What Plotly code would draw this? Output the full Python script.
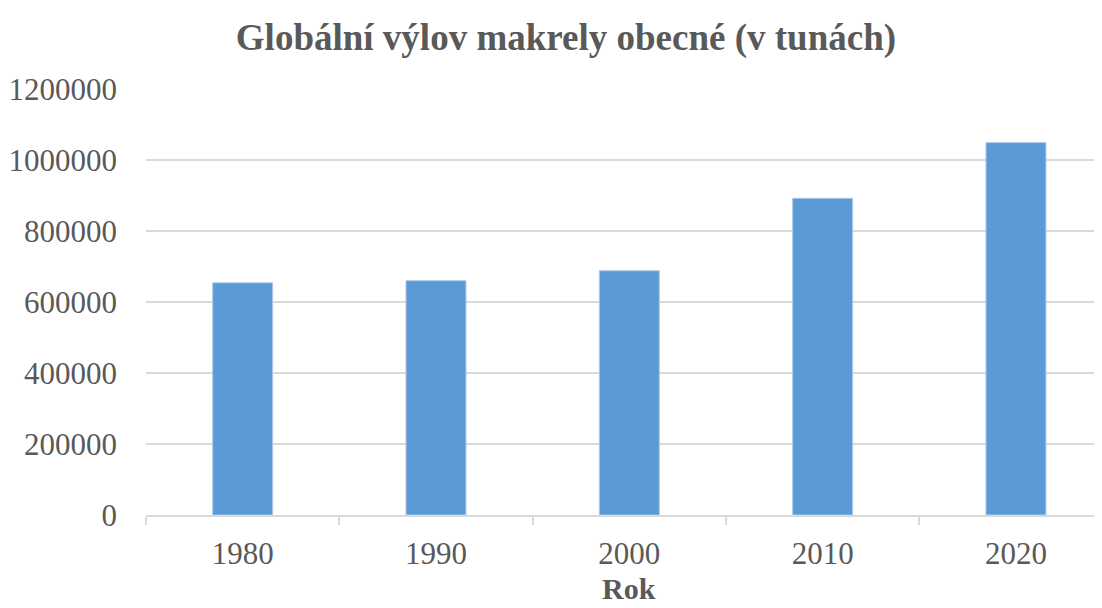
import plotly.graph_objects as go

years = ["1980", "1990", "2000", "2010", "2020"]
catch_tonnes = [654000, 660000, 688000, 892000, 1049000]
y_ticks = [0, 200000, 400000, 600000, 800000, 1000000, 1200000]

title_text = "Globální výlov makrely obecné (v tunách)"
x_title = "Rok"

FONT = "Liberation Serif, Times New Roman, serif"
GREY = "#595959"

fig = go.Figure(
    go.Bar(
        x=years,
        y=catch_tonnes,
        marker=dict(color="#5B9BD5", line=dict(color="#A9C8EA", width=1)),
        width=0.31,
    )
)

fig.update_layout(
    width=1094,
    height=600,
    paper_bgcolor="white",
    plot_bgcolor="white",
    margin=dict(l=138, r=0, t=81, b=93),
    showlegend=False,
    title=dict(
        text="<b>" + title_text + "</b>",
        x=0.510,
        xanchor="center",
        y=0.952,
        yanchor="middle",
        font=dict(family=FONT, size=37, color=GREY),
    ),
    font=dict(family=FONT, color=GREY),
    annotations=[
        dict(
            text="<b>" + x_title + "</b>",
            x=0.5056,
            xref="paper",
            y=-0.1737,
            yref="paper",
            xanchor="center",
            yanchor="middle",
            showarrow=False,
            font=dict(family=FONT, size=30, color=GREY),
        )
    ],
)

fig.update_xaxes(
    type="category",
    range=[-0.5, 4.445],
    automargin=False,
    showline=True,
    linecolor="#D9D9D9",
    linewidth=2,
    ticks="outside",
    ticklen=8,
    tickwidth=2,
    tickcolor="#D9D9D9",
    tickson="boundaries",
    showgrid=False,
    ticklabelstandoff=10,
    tickfont=dict(family=FONT, size=31, color=GREY),
)

fig.update_yaxes(
    range=[0, 1200000],
    automargin=False,
    tickvals=y_ticks,
    ticktext=[str(v) for v in y_ticks],
    showgrid=True,
    gridcolor="#D9D9D9",
    gridwidth=2,
    zeroline=False,
    showline=False,
    ticks="",
    ticklabelstandoff=28,
    tickfont=dict(family=FONT, size=31, color=GREY),
)

fig.write_html("out.html")
